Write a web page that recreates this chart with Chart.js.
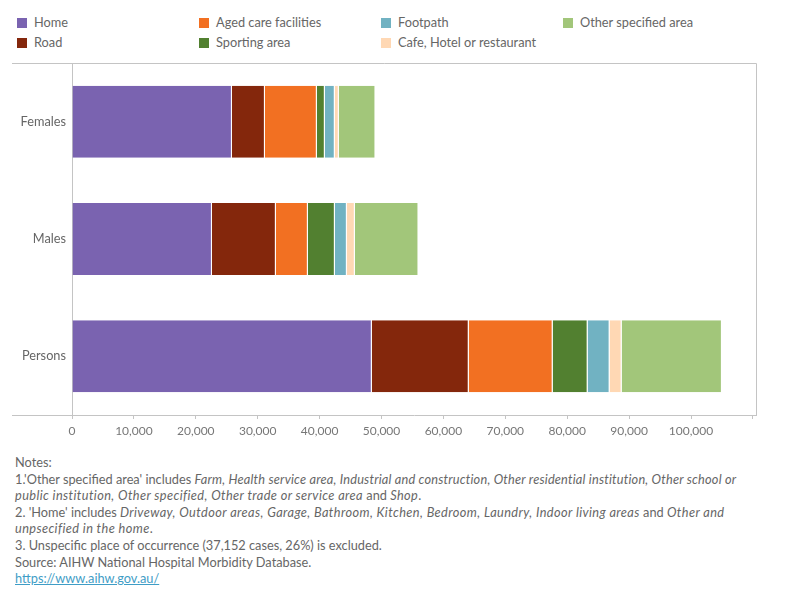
<!DOCTYPE html>
<html>
<head>
<meta charset="utf-8">
<script src="https://cdn.jsdelivr.net/npm/chart.js@4"></script>
<style>
  body { margin: 0; width: 800px; height: 600px; background: #fff; position: relative; overflow: hidden;
         font-family: Lato, "Open Sans", sans-serif; color: #666; }
  #legend { position: absolute; left: 0; top: 0; }
  .item { position: absolute; font-size: 12.75px; line-height: 14px; white-space: nowrap; }
  .item span { display: inline-block; width: 10px; height: 10px; margin-right: 7px; vertical-align: -1px; }
  #wrap { position: absolute; left: 0; top: 0; width: 800px; height: 445px; }
  #notes { position: absolute; left: 15px; top: 454px; font-size: 12.75px; line-height: 16.6px; white-space: nowrap; }
  #notes i { letter-spacing: 0.4px; }
  #notes i.tight { letter-spacing: 0.2px; }
  #notes a { color: #3f9dc6; }
</style>
</head>
<body>
<div id="legend"></div>
<div id="wrap"><canvas id="chart"></canvas></div>
<div id="notes">
  Notes:<br>
  1.'Other specified area' includes <i class="tight">Farm, Health service area, Industrial and construction, Other residential institution, Other school or</i><br>
  <i>public institution, Other specified, Other trade or service area</i> and <i>Shop</i>.<br>
  2. 'Home' includes <i>Driveway, Outdoor areas, Garage, Bathroom, Kitchen, Bedroom, Laundry, Indoor living areas</i> and <i>Other and</i><br>
  <i>unpsecified in the home</i>.<br>
  3. Unspecific place of occurrence (37,152 cases, 26%) is excluded.<br>
  Source: AIHW National Hospital Morbidity Database.<br>
  <a href="https://www.aihw.gov.au/">https://www.aihw.gov.au/</a>
</div>
<script>
const categories = ['Females', 'Males', 'Persons'];
const seriesNames = ['Home', 'Road', 'Aged care facilities', 'Sporting area', 'Footpath', 'Cafe, Hotel or restaurant', 'Other specified area'];
const seriesColors = ['#7a63b0', '#84270c', '#f27022', '#528030', '#71b2c2', '#ffd8b4', '#a2c67a'];

const home = [25830, 22600, 48430];
const road = [5330, 10330, 15660];
const agedCare = [8390, 5170, 13560];
const sporting = [1290, 4360, 5650];
const footpath = [1610, 1940, 3550];
const cafe = [650, 1290, 1940];
const otherArea = [5920, 10280, 16200];

const tickValues = [0, 10000, 20000, 30000, 40000, 50000, 60000, 70000, 80000, 90000, 100000, 110000];
const tickLabels = ['0', '10,000', '20,000', '30,000', '40,000', '50,000', '60,000', '70,000', '80,000', '90,000', '100,000', ''];

const seriesValues = [home, road, agedCare, sporting, footpath, cafe, otherArea];

// legend, laid out column by column like the original
const legend = document.getElementById('legend');
seriesNames.forEach((name, i) => {
    const el = document.createElement('div');
    el.className = 'item';
    el.style.left = (17 + Math.floor(i / 2) * 182) + 'px';
    el.style.top = (15 + (i % 2) * 20) + 'px';
    el.innerHTML = '<span style="background:' + seriesColors[i] + '"></span>' + name;
    legend.appendChild(el);
});

const lineColor = '#c4c4c4';

// frame lines that run past the axis area
const framePlugin = {
    id: 'frame',
    afterDraw(chart) {
        const a = chart.chartArea;
        const ctx = chart.ctx;
        ctx.save();
        ctx.strokeStyle = lineColor;
        ctx.lineWidth = 1;
        ctx.beginPath();
        ctx.moveTo(12, Math.round(a.top) + 0.5);
        ctx.lineTo(Math.round(a.right) + 0.5, Math.round(a.top) + 0.5);
        ctx.lineTo(Math.round(a.right) + 0.5, Math.round(a.bottom) + 0.5);
        ctx.moveTo(12, Math.round(a.bottom) + 0.5);
        ctx.lineTo(Math.round(a.left), Math.round(a.bottom) + 0.5);
        ctx.stroke();
        ctx.restore();
    }
};

new Chart(document.getElementById('chart'), {
    type: 'bar',
    data: {
        labels: categories,
        datasets: seriesNames.map((name, i) => ({
            label: name,
            data: seriesValues[i],
            backgroundColor: seriesColors[i],
            borderColor: '#ffffff',
            borderWidth: { top: 0, bottom: 0, left: 0, right: 1 },
            borderSkipped: false,
            categoryPercentage: 1,
            barPercentage: 0.614
        }))
    },
    options: {
        indexAxis: 'y',
        responsive: true,
        maintainAspectRatio: false,
        animation: false,
        layout: { padding: { top: 63, right: 44, left: 0, bottom: 0 } },
        plugins: {
            legend: { display: false },
            tooltip: { enabled: false }
        },
        scales: {
            x: {
                stacked: true,
                min: 0,
                max: 110500,
                afterFit(scale) { scale.height = 30; },
                afterBuildTicks(scale) { scale.ticks = tickValues.map(v => ({ value: v })); },
                ticks: {
                    autoSkip: false,
                    maxRotation: 0,
                    padding: 5,
                    color: '#777',
                    font: { family: 'Lato', size: 12 },
                    callback: (v) => tickLabels[tickValues.indexOf(v)]
                },
                grid: { drawOnChartArea: false, tickLength: 4, color: lineColor },
                border: { color: lineColor }
            },
            y: {
                stacked: true,
                afterFit(scale) { scale.width = 72; },
                ticks: { padding: 6, color: '#666', font: { family: 'Lato', size: 12.75 } },
                grid: { drawOnChartArea: false, drawTicks: false },
                border: { color: lineColor }
            }
        }
    },
    plugins: [framePlugin]
});
</script>
</body>
</html>
